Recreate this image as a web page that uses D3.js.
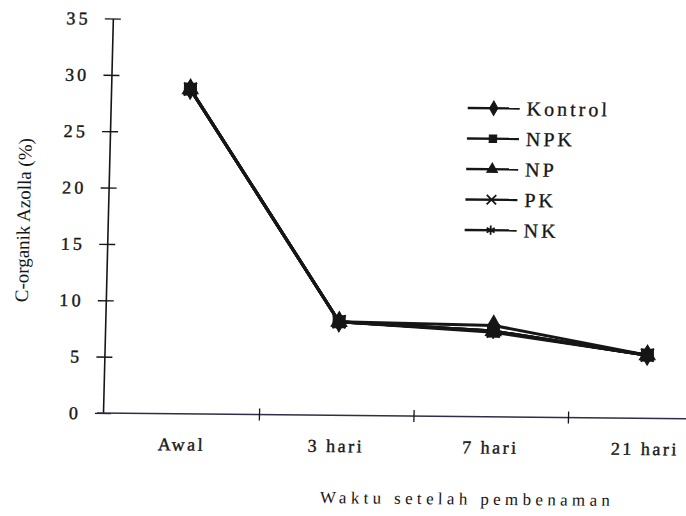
<!DOCTYPE html>
<html>
<head>
<meta charset="utf-8">
<script src="https://cdn.jsdelivr.net/npm/d3@7"></script>
<style>
  body { margin: 0; background: #fff; }
  svg { display: block; }
  text { font-family: "Liberation Serif", "Times New Roman", serif; }
</style>
</head>
<body>
<svg id="chart" width="686" height="516"></svg>
<script>
// data
const categories = ["Awal", "3 hari", "7 hari", "21 hari"];
const seriesNames = ["Kontrol", "NPK", "NP", "PK", "NK"];
const kontrol = [28.8, 8.3, 8.1, 5.6];
const npk = [28.8, 8.3, 7.6, 5.6];
const np = [28.8, 8.3, 7.6, 5.6];
const pk = [28.8, 8.3, 7.6, 5.6];
const nk = [28.8, 8.3, 7.5, 5.6];
const yTicks = [0, 5, 10, 15, 20, 25, 30, 35];

const seriesValues = [kontrol, npk, np, pk, nk];
const symbols = [d3.symbolDiamond, d3.symbolSquare, d3.symbolTriangle, d3.symbolX, d3.symbolAsterisk];
const symbolSizes = [120, 144, 110, 110, 120];
const legendSizes = [60, 55, 50, 60, 60];
const filled = [true, true, true, false, false];
const ink = "#161616";

const svg = d3.select("#chart");

// the scan is slightly skewed; shear everything around the axis origin
const ox = 103, oy = 413, kx = 0.025, ky = 0.0097;
const g = svg.append("g")
  .attr("transform", `matrix(1,${ky},${-kx},1,${kx * oy},${-ky * ox})`);

const x = d3.scaleBand().domain(categories).range([105, 723]);
const y = d3.scaleLinear().domain([0, 35]).range([oy, 18.5]);

// y axis
const yAxis = g.append("g")
  .attr("transform", `translate(${ox},0)`)
  .call(d3.axisLeft(y).tickValues(yTicks).tickSizeInner(8).tickSizeOuter(0).tickPadding(14));
yAxis.attr("font-family", null);
yAxis.select(".domain").attr("stroke", ink).attr("stroke-width", 1.6);
yAxis.selectAll(".tick line").attr("x1", 8).attr("x2", -8).attr("stroke", ink).attr("stroke-width", 1.4);
yAxis.selectAll(".tick text")
  .attr("fill", ink).attr("font-size", 18).attr("letter-spacing", 3.2)
  .attr("stroke", ink).attr("stroke-width", 0.4);

// x axis
g.append("line")
  .attr("x1", 97).attr("x2", 700).attr("y1", oy).attr("y2", oy)
  .attr("stroke", "#2c2f45").attr("stroke-width", 1.5);
g.selectAll("line.xtick")
  .data(categories.slice(0, 3))
  .join("line")
  .attr("class", "xtick")
  .attr("x1", d => x(d) + x.bandwidth()).attr("x2", d => x(d) + x.bandwidth())
  .attr("y1", oy - 6).attr("y2", oy + 6)
  .attr("stroke", ink).attr("stroke-width", 1.3);

const xAxis = g.append("g")
  .attr("transform", `translate(0,${oy})`)
  .call(d3.axisBottom(x).tickSize(0).tickPadding(24));
xAxis.attr("font-family", null);
xAxis.select(".domain").remove();
xAxis.selectAll(".tick text")
  .attr("fill", ink).attr("font-size", 18).attr("letter-spacing", 2.5)
  .attr("stroke", ink).attr("stroke-width", 0.4);

// axis titles
g.append("text")
  .attr("x", 467).attr("y", 501)
  .attr("text-anchor", "middle")
  .attr("font-size", 17).attr("fill", ink)
  .attr("textLength", 290).attr("lengthAdjust", "spacing")
  .text("Waktu setelah pembenaman");

g.append("text")
  .attr("transform", "translate(25,221) rotate(-90)")
  .attr("text-anchor", "middle")
  .attr("font-size", 19).attr("fill", ink)
  .attr("textLength", 164).attr("lengthAdjust", "spacingAndGlyphs")
  .text("C-organik Azolla (%)");

// lines
const line = d3.line()
  .x((d, i) => x(categories[i]) + x.bandwidth() / 2)
  .y(d => y(d));

g.selectAll("path.series")
  .data(seriesValues)
  .join("path")
  .attr("class", "series")
  .attr("d", line)
  .attr("fill", "none")
  .attr("stroke", ink)
  .attr("stroke-width", 3);

// markers
seriesValues.forEach((vals, s) => {
  const sym = d3.symbol(symbols[s], symbolSizes[s]);
  g.selectAll(null)
    .data(vals)
    .join("path")
    .attr("transform", (d, i) => `translate(${x(categories[i]) + x.bandwidth() / 2},${y(d)})`)
    .attr("d", sym)
    .attr("fill", filled[s] ? ink : "none")
    .attr("stroke", ink)
    .attr("stroke-width", filled[s] ? 1 : 2);
});

// legend
const legend = g.append("g").attr("transform", "translate(460,104.5)");
const rows = legend.selectAll("g")
  .data(seriesNames)
  .join("g")
  .attr("transform", (d, i) => `translate(0,${i * 30.5})`);
rows.append("line")
  .attr("x1", 0).attr("x2", 52).attr("y1", 0).attr("y2", 0)
  .attr("stroke", ink).attr("stroke-width", 2.4);
rows.append("path")
  .attr("transform", "translate(26,0)")
  .attr("d", (d, i) => d3.symbol(symbols[i], legendSizes[i])())
  .attr("fill", (d, i) => filled[i] ? ink : "none")
  .attr("stroke", ink)
  .attr("stroke-width", (d, i) => filled[i] ? 1 : 1.8);
rows.append("text")
  .attr("x", 59).attr("dy", "0.35em")
  .attr("font-size", 20).attr("letter-spacing", 3)
  .attr("fill", ink).attr("stroke", ink).attr("stroke-width", 0.3)
  .text(d => d);
</script>
</body>
</html>
